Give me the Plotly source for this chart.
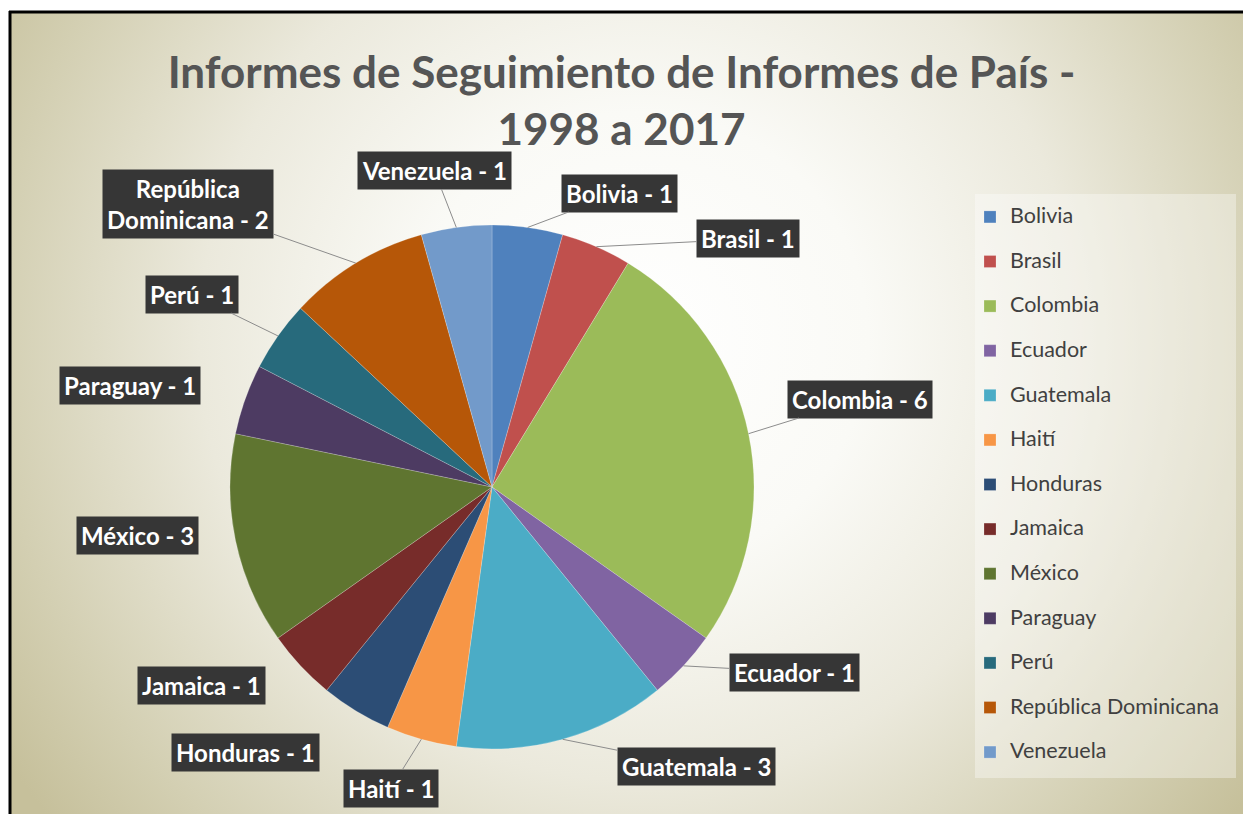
import math
import base64
import plotly.graph_objects as go

# ---------------- data ----------------
countries = ["Bolivia", "Brasil", "Colombia", "Ecuador", "Guatemala", "Haití",
             "Honduras", "Jamaica", "México", "Paraguay", "Perú",
             "República Dominicana", "Venezuela"]
reports = [1, 1, 6, 1, 3, 1, 1, 1, 3, 1, 1, 2, 1]
label_names = ["Bolivia", "Brasil", "Colombia", "Ecuador", "Guatemala", "Haití",
               "Honduras", "Jamaica", "México", "Paraguay", "Perú",
               "República<br>Dominicana", "Venezuela"]
title_text = "Informes de Seguimiento de Informes de País -<br>1998 a 2017"

# ---------------- styles / layout ----------------
colors = ["#4F81BD", "#C0504D", "#9BBB59", "#8064A2", "#4BACC6", "#F79646",
          "#2C4D75", "#772C2A", "#5F7530", "#4D3B62", "#276A7C", "#B65708",
          "#729ACA"]
# label box centres (pixels) and whether a leader line is drawn
label_pos = [(619, 193), (748, 239), (860, 399), (794, 672), (696, 766),
             (391, 788), (245, 752), (201, 685), (137, 535), (130, 385),
             (192, 294), (188, 204), (434, 170)]
leader = [True, True, True, True, True, True, False, False, False, False,
          True, True, True]

W, H = 1243, 814
CX, CY, R = 492, 487, 262
FONT = "Lato"

# background: radial gradient inside a black top/left frame
svg = f'''<svg xmlns="http://www.w3.org/2000/svg" width="{W}" height="{H}" viewBox="0 0 {W} {H}" preserveAspectRatio="none">
<defs><radialGradient id="g" cx="640" cy="340" r="760" gradientUnits="userSpaceOnUse">
<stop offset="0" stop-color="#ffffff"/>
<stop offset="0.30" stop-color="#fafaf6"/>
<stop offset="0.58" stop-color="#ebe9dc"/>
<stop offset="0.85" stop-color="#d3cfb2"/>
<stop offset="1" stop-color="#c6c09b"/>
</radialGradient></defs>
<rect x="0" y="0" width="{W}" height="{H}" fill="#ffffff"/>
<rect x="10" y="12" width="{W}" height="{H}" fill="url(#g)"/>
</svg>'''
bg_uri = "data:image/svg+xml;base64," + base64.b64encode(svg.encode("utf-8")).decode("ascii")

fig = go.Figure()
fig.add_trace(go.Pie(
    labels=[f'<span style="font-size:21.5px">{c}</span><br> ' for c in countries],
    values=reports,
    customdata=countries,
    sort=False,
    direction="clockwise",
    rotation=0,
    textinfo="none",
    hovertemplate="%{customdata}: %{value}<extra></extra>",
    marker=dict(colors=colors, line=dict(color="rgba(255,255,255,0.35)", width=0.6)),
    domain=dict(x=[(CX - R) / W, (CX + R) / W], y=[1 - (CY + R) / H, 1 - (CY - R) / H]),
    showlegend=True,
))

total = sum(reports)
annotations = []
cum = 0
for i, (name, v) in enumerate(zip(label_names, reports)):
    theta = 2 * math.pi * (cum + v / 2) / total
    cum += v
    ex = CX + R * math.sin(theta)
    ey = CY - R * math.cos(theta)
    bx, by = label_pos[i]
    common = dict(
        text=f"<b>{name} - {v}</b>",
        xref="paper", yref="paper",
        font=dict(family=FONT, size=24, color="#ffffff"),
        bgcolor="#363636", borderpad=4, align="center",
    )
    if leader[i]:
        annotations.append(dict(
            x=ex / W, y=1 - ey / H, ax=bx - ex, ay=by - ey,
            showarrow=True, arrowhead=0, arrowwidth=1, arrowcolor="#8c8c8c",
            **common))
    else:
        annotations.append(dict(
            x=bx / W, y=1 - by / H, showarrow=False,
            xanchor="center", yanchor="middle", **common))

shapes = [
    # legend panel
    dict(type="rect", xref="paper", yref="paper",
         x0=975 / W, x1=1236 / W, y0=1 - 778 / H, y1=1 - 194 / H,
         fillcolor="rgba(255,255,255,0.35)", line=dict(width=0), layer="below"),
    # frame (top and left edges)
    dict(type="line", xref="paper", yref="paper", x0=9 / W, x1=1.01, y0=1 - 12 / H, y1=1 - 12 / H,
         line=dict(color="#000000", width=3)),
    dict(type="line", xref="paper", yref="paper", x0=10 / W, x1=10 / W, y0=1 - 11 / H, y1=-0.01,
         line=dict(color="#000000", width=3)),
]

fig.update_layout(
    width=W, height=H,
    margin=dict(l=0, r=0, t=0, b=0),
    paper_bgcolor="#ffffff",
    plot_bgcolor="rgba(0,0,0,0)",
    font=dict(family=FONT, color="#404040"),
    title=dict(text=f"<b>{title_text}</b>", x=0.5, xanchor="center",
               y=1 - 88 / H, yanchor="top", yref="container",
               font=dict(family=FONT, size=44, color="#555555")),
    legend=dict(x=970 / W, xanchor="left", y=1 - 200 / H, yanchor="top",
                font=dict(family=FONT, size=16, color="#404040"),
                bgcolor="rgba(0,0,0,0)", borderwidth=0, valign="top",
                traceorder="normal"),
    images=[dict(source=bg_uri, xref="paper", yref="paper", x=0, y=1,
                 sizex=1, sizey=1, sizing="stretch", layer="below",
                 xanchor="left", yanchor="top")],
    shapes=shapes,
    annotations=annotations,
)

fig.write_html("out.html")
